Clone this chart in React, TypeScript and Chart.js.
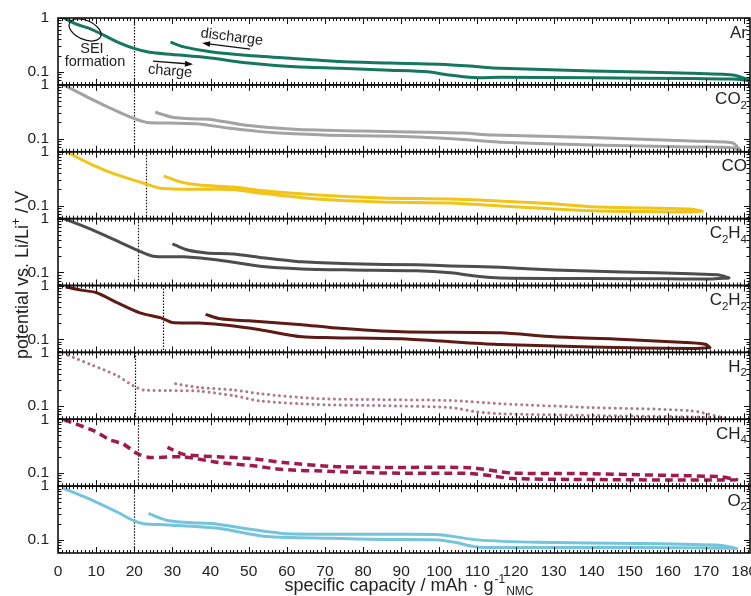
import React, { useEffect, useRef } from 'react';
import { Chart, registerables } from 'chart.js';

Chart.register(...registerables);

// ---------- data ----------
const gasLabels = ['Ar', 'CO_2', 'CO', 'C_2H_4', 'C_2H_2', 'H_2', 'CH_4', 'O_2'];
const xTickValues = [0, 10, 20, 30, 40, 50, 60, 70, 80, 90, 100, 110, 120, 130, 140, 150, 160, 170, 180];
const yTickValues = [0.06, 0.07, 0.08, 0.09, 0.1, 0.2, 0.3, 0.4, 0.5, 0.6, 0.7, 0.8, 0.9, 1];
const seiEndCapacity = [20, 20, 23, 21, 27.5, 20.3, 21, 20];

const arChargeX = [1.5, 5, 8.5, 12, 15.5, 19.7, 24, 30, 40, 50, 61, 74, 87, 97, 102, 109, 116, 140, 166, 177, 181, 183];
const arChargeV = [1.0, 0.76, 0.63, 0.48, 0.36, 0.275, 0.23, 0.21, 0.18, 0.145, 0.125, 0.116, 0.107, 0.1, 0.088, 0.078, 0.079, 0.077, 0.075, 0.073, 0.069, 0.064];
const arDischargeX = [29.5, 33, 40, 50, 61, 74, 87, 100, 108, 114, 140, 166, 177, 180, 183];
const arDischargeV = [0.355, 0.29, 0.235, 0.2, 0.178, 0.155, 0.145, 0.138, 0.128, 0.118, 0.103, 0.094, 0.087, 0.076, 0.064];

const co2ChargeX = [1.5, 7.6, 13.7, 19.7, 23.4, 29, 37, 44.5, 53, 58, 71, 88, 101, 110, 116, 140, 166, 177, 179];
const co2ChargeV = [1.0, 0.6, 0.37, 0.24, 0.2, 0.195, 0.188, 0.157, 0.135, 0.127, 0.116, 0.111, 0.102, 0.092, 0.086, 0.076, 0.07, 0.068, 0.06];
const co2DischargeX = [25.5, 30, 36, 40, 48.7, 62, 80, 97, 106, 114, 140, 166, 177, 179];
const co2DischargeV = [0.31, 0.25, 0.232, 0.228, 0.18, 0.15, 0.138, 0.132, 0.127, 0.117, 0.105, 0.09, 0.083, 0.06];

const coChargeX = [2.5, 9, 15.5, 22.5, 27, 37, 46, 53, 68, 85, 103, 116, 128, 140, 155, 166, 169];
const coChargeV = [0.97, 0.57, 0.37, 0.26, 0.21, 0.2, 0.198, 0.17, 0.132, 0.116, 0.111, 0.098, 0.088, 0.08, 0.077, 0.076, 0.078];
const coDischargeX = [27.7, 32, 37, 46, 53, 68, 85, 103, 116, 128, 140, 155, 166, 169];
const coDischargeV = [0.355, 0.275, 0.24, 0.22, 0.19, 0.157, 0.138, 0.132, 0.121, 0.11, 0.095, 0.09, 0.086, 0.078];

const c2h4ChargeX = [1.5, 7.6, 13.7, 20.8, 25, 33, 42, 53, 64, 77, 94, 103, 110, 116, 140, 160, 171, 176];
const c2h4ChargeV = [1.0, 0.68, 0.44, 0.26, 0.2, 0.195, 0.17, 0.13, 0.116, 0.111, 0.107, 0.098, 0.085, 0.079, 0.077, 0.076, 0.075, 0.079];
const c2h4DischargeX = [30, 34, 39, 46, 53, 64, 77, 94, 103, 116, 130, 148, 166, 173, 176];
const c2h4DischargeV = [0.34, 0.26, 0.23, 0.22, 0.19, 0.157, 0.144, 0.138, 0.132, 0.124, 0.111, 0.102, 0.094, 0.09, 0.079];

const c2h2ChargeX = [2, 6, 10, 15.5, 21.5, 27, 30, 37, 45, 53, 64, 72, 90, 103, 116, 140, 166, 171];
const c2h2ChargeV = [0.95, 0.82, 0.74, 0.48, 0.31, 0.25, 0.205, 0.2, 0.18, 0.15, 0.111, 0.107, 0.102, 0.09, 0.08, 0.072, 0.067, 0.07];
const c2h2DischargeX = [38.7, 42.6, 50, 64, 72, 90, 116, 130, 150, 166, 170, 171];
const c2h2DischargeV = [0.29, 0.24, 0.22, 0.187, 0.164, 0.138, 0.132, 0.111, 0.098, 0.086, 0.08, 0.07];

const h2ChargeX = [2.7, 9.2, 15.5, 19.7, 22.4, 28.7, 37, 46, 53, 68, 85, 103, 110, 116, 140, 166, 175];
const h2ChargeV = [0.88, 0.57, 0.37, 0.24, 0.2, 0.195, 0.19, 0.157, 0.125, 0.107, 0.102, 0.094, 0.078, 0.072, 0.067, 0.063, 0.06];
const h2DischargeX = [30.8, 37, 46, 53, 68, 85, 103, 116, 140, 166, 175];
const h2DischargeV = [0.26, 0.222, 0.2, 0.17, 0.138, 0.132, 0.127, 0.111, 0.094, 0.082, 0.06];

const ch4ChargeX = [1.5, 9.2, 13.7, 17, 20.8, 24, 33, 42, 50.5, 59, 72, 85, 108, 114, 119, 135, 161, 174, 178];
const ch4ChargeV = [0.98, 0.62, 0.41, 0.35, 0.23, 0.195, 0.2, 0.157, 0.138, 0.116, 0.107, 0.1, 0.098, 0.088, 0.079, 0.076, 0.074, 0.074, 0.075];
const ch4DischargeX = [28.7, 33, 42, 50.5, 59, 72, 85, 108, 119, 135, 161, 174, 178];
const ch4DischargeV = [0.3, 0.222, 0.2, 0.187, 0.157, 0.132, 0.127, 0.125, 0.1, 0.098, 0.09, 0.085, 0.075];

const o2ChargeX = [1.3, 5.8, 8.9, 15.5, 19.7, 22.4, 28.7, 42, 55, 72, 85, 100, 104, 110, 126, 152, 174, 178];
const o2ChargeV = [0.92, 0.68, 0.55, 0.33, 0.23, 0.2, 0.19, 0.164, 0.115, 0.107, 0.102, 0.1, 0.09, 0.074, 0.072, 0.072, 0.07, 0.069];
const o2DischargeX = [23.7, 28.7, 37, 41, 50.5, 59, 72, 85, 100, 110, 126, 152, 174, 178];
const o2DischargeV = [0.31, 0.23, 0.205, 0.2, 0.157, 0.132, 0.127, 0.127, 0.125, 0.1, 0.09, 0.086, 0.079, 0.069];

const panelCurves = [
  [arChargeX, arChargeV, arDischargeX, arDischargeV],
  [co2ChargeX, co2ChargeV, co2DischargeX, co2DischargeV],
  [coChargeX, coChargeV, coDischargeX, coDischargeV],
  [c2h4ChargeX, c2h4ChargeV, c2h4DischargeX, c2h4DischargeV],
  [c2h2ChargeX, c2h2ChargeV, c2h2DischargeX, c2h2DischargeV],
  [h2ChargeX, h2ChargeV, h2DischargeX, h2DischargeV],
  [ch4ChargeX, ch4ChargeV, ch4DischargeX, ch4DischargeV],
  [o2ChargeX, o2ChargeV, o2DischargeX, o2DischargeV],
];

// annotation anchors (Ar panel, data coordinates)
const seiEllipse = { x: 7.1, v: 0.6 };
const seiText = { x: 8.9, v: 0.265 };
const formationText = { x: 9.7, v: 0.15 };
const dischargeText = { x: 45.6, v: 0.44 };
const dischargeArrow = { x1: 50.4, v1: 0.263, x2: 37.8, v2: 0.341 };
const chargeText = { x: 29.4, v: 0.102 };
const chargeArrow = { x1: 24.9, v1: 0.157, x2: 35.4, v2: 0.138 };

// ---------- styles ----------
const FONT = '"Liberation Sans", Arial, Helvetica, sans-serif';
const TEXT = '#222';
const lineColors = ['#16775f', '#a3a3a3', '#f0c419', '#4d4d4d', '#5e1b16', '#b0768c', '#a11a4d', '#74c5dc'];

function parseLabel(s: string) {
  const parts: { t: string; sub: boolean }[] = [];
  const re = /_(\d)|([^_]+)/g;
  let m: RegExpExecArray | null;
  while ((m = re.exec(s))) {
    if (m[1]) parts.push({ t: m[1], sub: true });
    else parts.push({ t: m[2], sub: false });
  }
  return parts;
}

function arrow(ctx: CanvasRenderingContext2D, x1: number, y1: number, x2: number, y2: number) {
  const ang = Math.atan2(y2 - y1, x2 - x1);
  const head = 8;
  ctx.beginPath();
  ctx.moveTo(x1, y1);
  ctx.lineTo(x2 - Math.cos(ang) * head * 0.8, y2 - Math.sin(ang) * head * 0.8);
  ctx.stroke();
  ctx.beginPath();
  ctx.moveTo(x2, y2);
  ctx.lineTo(x2 - Math.cos(ang) * head + Math.sin(ang) * 3, y2 - Math.sin(ang) * head - Math.cos(ang) * 3);
  ctx.lineTo(x2 - Math.cos(ang) * head - Math.sin(ang) * 3, y2 - Math.sin(ang) * head + Math.cos(ang) * 3);
  ctx.closePath();
  ctx.fill();
}

const panelPlugin = {
  id: 'panelDecor',
  beforeDatasetsDraw(chart: any) {
    const ctx: CanvasRenderingContext2D = chart.ctx;
    const xs = chart.scales.x;
    ctx.save();
    ctx.strokeStyle = '#111';
    ctx.lineWidth = 1.2;
    ctx.setLineDash([1.5, 1.5]);
    for (let i = 0; i < 8; i++) {
      const ys = chart.scales['y' + i];
      const px = Math.round(xs.getPixelForValue(seiEndCapacity[i])) + 0.5;
      ctx.beginPath();
      ctx.moveTo(px, ys.top);
      ctx.lineTo(px, ys.bottom);
      ctx.stroke();
    }
    ctx.restore();
  },
  afterDraw(chart: any) {
    const ctx: CanvasRenderingContext2D = chart.ctx;
    const xs = chart.scales.x;
    ctx.save();
    // ticks
    ctx.strokeStyle = '#111';
    ctx.lineWidth = 1;
    for (let i = 0; i < 8; i++) {
      const ys = chart.scales['y' + i];
      ctx.beginPath();
      for (let v = 0; v <= 181; v++) {
        const px = Math.round(xs.getPixelForValue(v)) + 0.5;
        const len = v % 10 === 0 ? 6 : 3;
        ctx.moveTo(px, ys.top);
        ctx.lineTo(px, ys.top + len);
        ctx.moveTo(px, ys.bottom);
        ctx.lineTo(px, ys.bottom - len);
      }
      for (const v of yTickValues) {
        const py = Math.round(ys.getPixelForValue(v)) + 0.5;
        const major = v === 1 || Math.abs(v - 0.1) < 1e-9;
        const len = major ? 6 : 3.5;
        ctx.moveTo(xs.left, py);
        ctx.lineTo(xs.left + len, py);
        ctx.moveTo(xs.right, py);
        ctx.lineTo(xs.right - len, py);
      }
      ctx.stroke();
    }
    // frames
    ctx.lineWidth = 1.6;
    for (let i = 0; i < 8; i++) {
      const ys = chart.scales['y' + i];
      ctx.strokeRect(xs.left, ys.top, xs.right - xs.left, ys.bottom - ys.top);
    }
    // panel labels
    ctx.fillStyle = TEXT;
    ctx.textBaseline = 'alphabetic';
    ctx.textAlign = 'left';
    const mainF = '17px ' + FONT;
    const subF = '11.5px ' + FONT;
    for (let i = 0; i < 8; i++) {
      const ys = chart.scales['y' + i];
      const parts = parseLabel(gasLabels[i]);
      let w = 0;
      for (const p of parts) {
        ctx.font = p.sub ? subF : mainF;
        w += ctx.measureText(p.t).width;
      }
      let x = xs.right - 3 - w;
      const base = ys.top + 19.5;
      for (const p of parts) {
        ctx.font = p.sub ? subF : mainF;
        ctx.fillText(p.t, x, p.sub ? base + 4.5 : base);
        x += ctx.measureText(p.t).width;
      }
    }
    // annotations in Ar panel
    const y0 = chart.scales.y0;
    const P = (x: number, v: number) => [xs.getPixelForValue(x), y0.getPixelForValue(v)];
    ctx.strokeStyle = '#111';
    ctx.lineWidth = 1.2;
    const [ex, ey] = P(seiEllipse.x, seiEllipse.v);
    ctx.beginPath();
    ctx.ellipse(ex, ey, 17, 9.5, 0.42, 0, Math.PI * 2);
    ctx.stroke();
    ctx.font = '14.5px ' + FONT;
    ctx.textAlign = 'center';
    ctx.textBaseline = 'middle';
    let [tx, ty] = P(seiText.x, seiText.v);
    ctx.fillText('SEI', tx, ty);
    [tx, ty] = P(formationText.x, formationText.v);
    ctx.fillText('formation', tx, ty);
    [tx, ty] = P(dischargeText.x, dischargeText.v);
    ctx.save();
    ctx.translate(tx, ty);
    ctx.rotate(0.12);
    ctx.fillText('discharge', 0, 0);
    ctx.restore();
    [tx, ty] = P(chargeText.x, chargeText.v);
    ctx.save();
    ctx.translate(tx, ty);
    ctx.rotate(0.08);
    ctx.fillText('charge', 0, 0);
    ctx.restore();
    ctx.fillStyle = '#111';
    ctx.lineWidth = 1.3;
    let [a1x, a1y] = P(dischargeArrow.x1, dischargeArrow.v1);
    let [a2x, a2y] = P(dischargeArrow.x2, dischargeArrow.v2);
    arrow(ctx, a1x, a1y, a2x, a2y);
    [a1x, a1y] = P(chargeArrow.x1, chargeArrow.v1);
    [a2x, a2y] = P(chargeArrow.x2, chargeArrow.v2);
    arrow(ctx, a1x, a1y, a2x, a2y);

    // x title
    ctx.fillStyle = TEXT;
    ctx.textAlign = 'left';
    ctx.textBaseline = 'alphabetic';
    const tMain = 'specific capacity / mAh \u00b7 g';
    const tF = '18px ' + FONT;
    const sF = '12px ' + FONT;
    ctx.font = tF;
    const w1 = ctx.measureText(tMain).width;
    ctx.font = sF;
    const w2 = ctx.measureText('-1').width;
    const w3 = ctx.measureText('NMC').width;
    const cx = (xs.left + xs.right) / 2 + 5;
    let sx = cx - (w1 + w2 + w3 + 2) / 2;
    const by = 591;
    ctx.font = tF;
    ctx.fillText(tMain, sx, by);
    sx += w1 + 1;
    ctx.font = sF;
    ctx.fillText('-1', sx, by - 8);
    sx += w2 + 1;
    ctx.fillText('NMC', sx, by + 4);

    // y title
    ctx.save();
    const midY = 275;
    ctx.translate(28, midY);
    ctx.rotate(-Math.PI / 2);
    const yA = 'potential vs. Li/Li';
    const yB = ' / V';
    ctx.font = tF;
    const wa = ctx.measureText(yA).width;
    const wb = ctx.measureText(yB).width;
    ctx.font = sF;
    const wp = ctx.measureText('+').width;
    let yx = -(wa + wp + wb) / 2;
    ctx.font = tF;
    ctx.fillText(yA, yx, 0);
    yx += wa;
    ctx.font = sF;
    ctx.fillText('+', yx, -8);
    yx += wp;
    ctx.font = tF;
    ctx.fillText(yB, yx, 0);
    ctx.restore();

    ctx.restore();
  },
};

function makeYScale(i: number) {
  return {
    type: 'logarithmic',
    position: 'left',
    stack: 'panels',
    stackWeight: 1,
    weight: 8 - i,
    min: 0.057,
    max: 1,
    afterBuildTicks: (s: any) => {
      s.ticks = yTickValues.map((v) => ({ value: v }));
    },
    afterFit: (s: any) => {
      s.width = 58;
      s.paddingTop = 0;
      s.paddingBottom = 0;
    },
    grid: { display: false, drawTicks: false },
    border: { display: false },
    ticks: {
      autoSkip: false,
      padding: 9,
      color: TEXT,
      font: { family: FONT, size: 15.5 },
      callback: (v: number) => (v === 1 ? '1' : Math.abs(v - 0.1) < 1e-9 ? '0.1' : ''),
    },
  };
}

export default function App() {
  const ref = useRef<HTMLCanvasElement | null>(null);
  useEffect(() => {
    if (!ref.current) return;
    const datasets = panelCurves.map(([cx, cv, dx, dv], i) => {
      const charge = cx.map((x, j) => ({ x, y: cv[j] }));
      const discharge = dx.map((x, j) => ({ x, y: dv[j] })).reverse();
      return {
        label: gasLabels[i],
        data: charge.concat(discharge),
        xAxisID: 'x',
        yAxisID: 'y' + i,
        borderColor: lineColors[i],
        backgroundColor: lineColors[i],
        borderWidth: i === 6 ? 3.5 : 3,
        pointRadius: 0,
        tension: 0.25,
        fill: false,
        borderDash: i === 5 ? [0.01, 5.5] : i === 6 ? [8, 5] : [],
        borderCapStyle: i === 5 ? 'round' : 'butt',
        borderJoinStyle: 'round',
      };
    });
    const scales: any = {
      x: {
        type: 'linear',
        position: 'bottom',
        min: 0,
        max: 181.5,
        afterBuildTicks: (s: any) => {
          s.ticks = xTickValues.map((v) => ({ value: v }));
        },
        afterFit: (s: any) => {
          s.height = 43;
          s.paddingLeft = 0;
          s.paddingRight = 0;
        },
        grid: { display: false, drawTicks: false },
        border: { display: false },
        ticks: {
          autoSkip: false,
          maxRotation: 0,
          padding: 9,
          color: TEXT,
          font: { family: FONT, size: 15.5 },
          callback: (v: number) => String(v),
        },
      },
    };
    for (let i = 0; i < 8; i++) scales['y' + i] = makeYScale(i);
    const chart = new Chart(ref.current, {
      type: 'line',
      data: { datasets: datasets as any },
      options: {
        responsive: false,
        animation: false,
        events: [],
        layout: { padding: { top: 18, right: 1, bottom: 0, left: 0 } },
        plugins: { legend: { display: false }, tooltip: { enabled: false }, title: { display: false } },
        scales,
      } as any,
      plugins: [panelPlugin],
    });
    return () => chart.destroy();
  }, []);
  return (
    <div style={{ position: 'absolute', left: 0, top: 0, width: 751, height: 596, background: '#fff' }}>
      <canvas ref={ref} width={751} height={596} style={{ width: 751, height: 596, display: 'block' }} />
    </div>
  );
}
